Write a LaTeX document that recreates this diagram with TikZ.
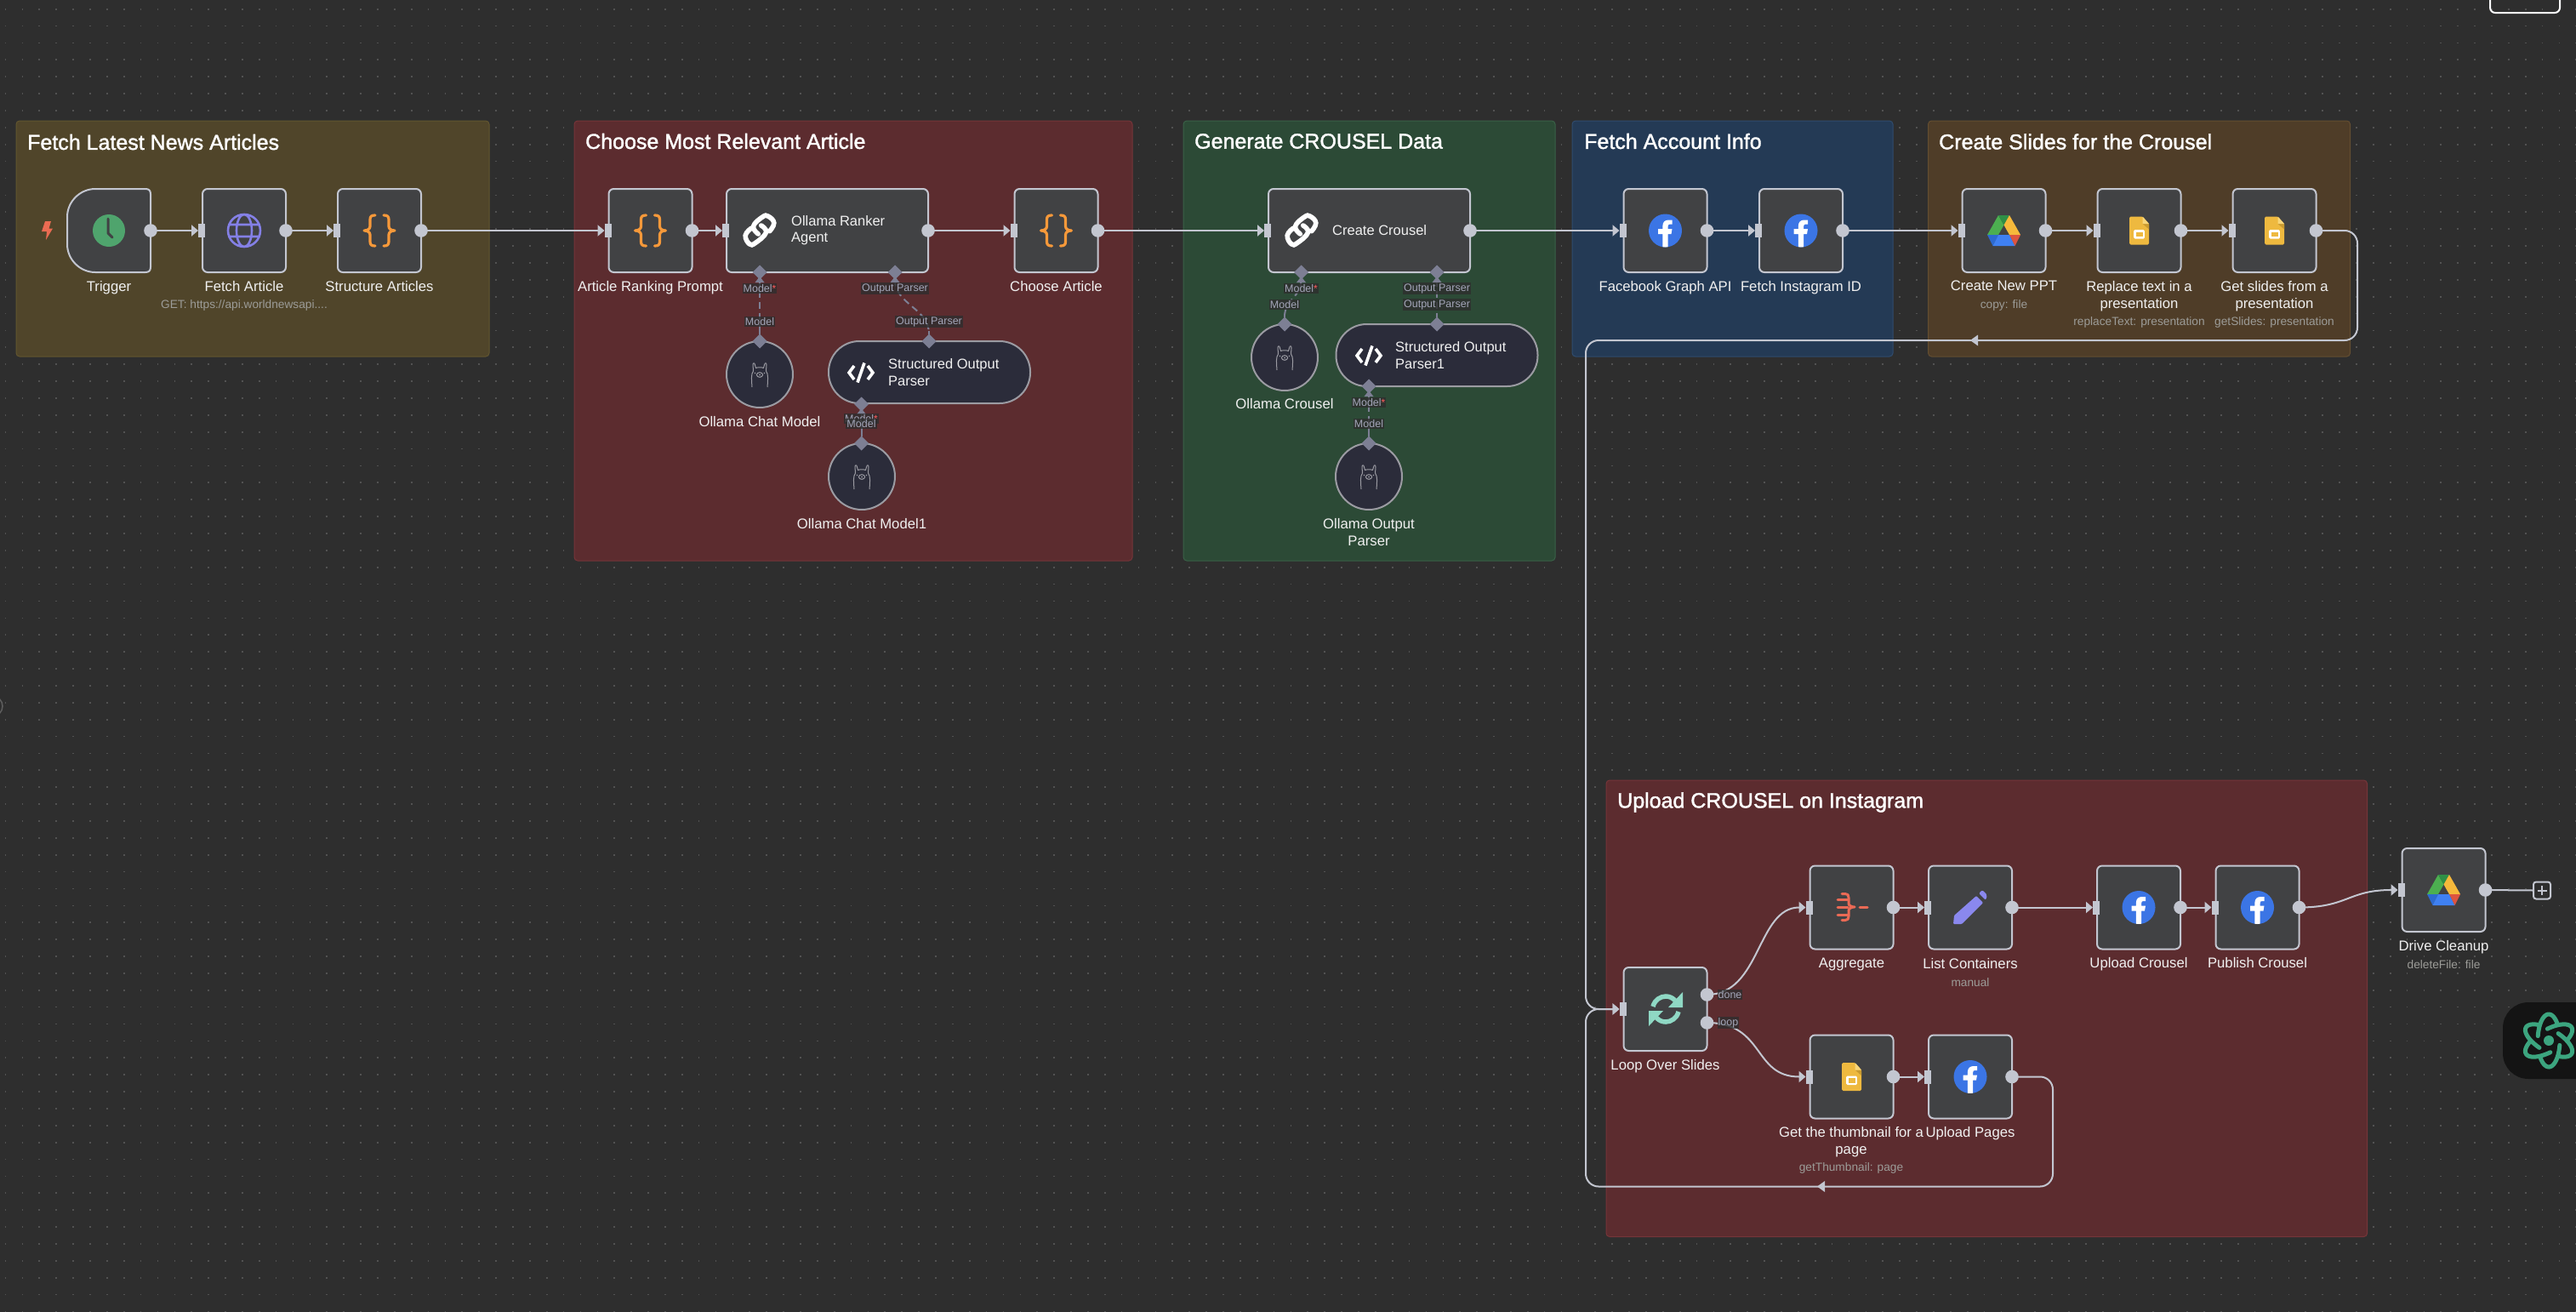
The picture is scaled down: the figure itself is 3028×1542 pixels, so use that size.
\documentclass[tikz,border=0pt]{standalone}
\usepackage{fontspec}
\setmainfont{Liberation Sans}
\newfontfamily\titlefont[FakeBold=1.5]{Liberation Sans}
\usetikzlibrary{arrows.meta,shapes.geometric}
\definecolor{bgc}{HTML}{2E2E2E}
\definecolor{dotc}{HTML}{525252}
\definecolor{nodef}{HTML}{414244}
\definecolor{nodeb}{HTML}{C3C6D0}
\definecolor{subf}{HTML}{2B2C3A}
\definecolor{subb}{HTML}{9B9BA2}
\definecolor{diam}{HTML}{7D7F94}
\definecolor{elab}{HTML}{A3A5B8}
\definecolor{ast}{HTML}{FF5A5A}
\definecolor{labc}{HTML}{F0F0F0}
\definecolor{subt}{HTML}{9C9C98}
\definecolor{oliv}{HTML}{50452A}
\definecolor{olivb}{HTML}{62562F}
\definecolor{redg}{HTML}{5C2C2F}
\definecolor{redb}{HTML}{763539}
\definecolor{greeng}{HTML}{2C4A36}
\definecolor{greenb}{HTML}{3A6147}
\definecolor{blueg}{HTML}{243A55}
\definecolor{blueb}{HTML}{304C6E}
\definecolor{browng}{HTML}{4F3D28}
\definecolor{brownb}{HTML}{644E31}
\definecolor{fbblue}{HTML}{3B75E5}
\definecolor{gold}{HTML}{EEB93F}
\definecolor{orangeb}{HTML}{F7993A}
\definecolor{loopc}{HTML}{8FD8C4}
\definecolor{aggc}{HTML}{EA6A55}
\definecolor{pencilc}{HTML}{8A88EE}
\definecolor{atomc}{HTML}{3CA57F}
\definecolor{globec}{HTML}{8480E6}
\tikzset{
  grp/.style={rectangle,anchor=north west,rounded corners=4pt,line width=1pt,inner sep=0pt,outer sep=0pt},
  wfbox/.style={rectangle,draw=nodeb,fill=nodef,line width=2pt,rounded corners=6pt,minimum height=98pt,inner sep=0pt,outer sep=0pt},
  circ/.style={circle,draw=subb,fill=subf,line width=2pt,minimum size=78pt,inner sep=0pt,outer sep=0pt},
  pill/.style={rectangle,draw=subb,fill=subf,line width=2pt,rounded corners=36pt,minimum width=237pt,minimum height=73pt,inner sep=0pt,outer sep=0pt},
  diamondport/.style={diamond,fill=diam,minimum size=17pt,inner sep=0pt,outer sep=0pt},
  wire/.style={draw=nodeb,line width=2pt,-{Triangle[length=8pt,width=13pt]},shorten >=5pt},
  plainwire/.style={draw=nodeb,line width=2pt},
  subwire/.style={draw=diam,line width=2pt,dash pattern=on 8pt off 5pt},
  stub/.style={draw=diam,line width=2pt},
  lab/.style={anchor=north,align=center,text=labc,inner sep=0pt,yshift=1pt,font=\fontsize{16.7}{20}\selectfont},
  sublab/.style={anchor=center,text=subt,inner sep=0pt,font=\fontsize{13.7}{17}\selectfont},
  title/.style={anchor=west,text=white,inner sep=0pt,font=\titlefont\fontsize{25}{28}\selectfont},
  inner/.style={anchor=west,align=left,text=labc,inner sep=0pt,yshift=.6pt,font=\fontsize{16.5}{20}\selectfont},
  edgelab/.style={anchor=center,text=elab,fill=bgc,fill opacity=.8,text opacity=1,inner xsep=1pt,inner ysep=1.5pt,font=\fontsize{12.5}{14}\selectfont},
  dot/.style={draw=dotc,line width=1.7pt,dash pattern=on 1.7pt off 18.18pt},
  HTML/.code={\definecolor{tmpc}{HTML}{#1}\pgfkeysalso{color=tmpc}},
}
\newcommand\GR[7]{\node[grp,fill=#6,draw=#7,minimum width={#4-#2},minimum height={#5-#3}] (#1) at (#2,#3) {};}
\newcommand\WF[4][98]{\node[wfbox,minimum width=#1pt] (#2) at (#3,#4) {};}
\newcommand\OUT[1]{\fill[nodeb] (#1.east) circle (7.8pt);}
\newcommand\IN[1]{\fill[nodeb] ([xshift=-5pt,yshift=-8pt]#1.west) rectangle ([xshift=3pt,yshift=8pt]#1.west);}
\newcommand\TIP[1]{\fill[diam] ([xshift=-5.5pt,yshift=-12pt]#1.center) -- ([xshift=5.5pt,yshift=-12pt]#1.center) -- ([yshift=-5pt]#1.center) -- cycle;}
\newcommand\REQ{\textcolor{ast}{\fontsize{12}{12}\selectfont *}}
\newcommand\BRACES[2]{\begin{scope}[shift={(#1,#2)},draw=orangeb,line width=3.2pt,line cap=round,line join=round]
  \foreach \s in {1,-1}{\begin{scope}[xscale=\s]
  \draw (-5,-18) .. controls (-9,-18) and (-11,-17) .. (-11,-13) -- (-11,-5) .. controls (-11,-2) and (-14,0) .. (-18,0) .. controls (-14,0) and (-11,2) .. (-11,5) -- (-11,13) .. controls (-11,17) and (-9,18) .. (-5,18);
  \end{scope}}
\end{scope}}
\newcommand\LINK[2]{\begin{scope}[shift={(#1,#2)},draw=white,line width=5.6pt,line cap=round]
  \draw plot[smooth,tension=.75] coordinates {(11.7,0.7) (16.8,-9) (10,-16.8) (3.3,-16) (-7.5,-5) (-1.7,4)};
  \draw plot[smooth,tension=.75] coordinates {(-10,-2.7) (-16.8,5.7) (-12,15.8) (-5,14.5) (7.5,2.3) (1.7,-6)};
\end{scope}}
\newcommand\CODE[2]{\begin{scope}[shift={(#1,#2)},draw=white,line width=3.6pt]
  \draw (-8,-8) -- (-14,0) -- (-8,8);
  \draw (8,-8) -- (14,0) -- (8,8);
  \draw (4,-11.5) -- (-4,11.5);
\end{scope}}
\newcommand\LLAMA[2]{\begin{scope}[shift={(#1,#2)},draw=subb,line width=1pt,line join=round]
  \draw (-9,15) .. controls (-9.5,7) and (-10.5,0) .. (-7.5,-4) -- (-8,-11) .. controls (-8,-14) and (-6,-14) .. (-5.5,-11) -- (-4.5,-7.5) .. controls (-2,-8.5) and (2,-8.5) .. (4.5,-7.5) -- (5.5,-11) .. controls (6,-14) and (8,-14) .. (8,-11) -- (7.5,-4) .. controls (10.5,0) and (9.5,7) .. (9,15);
  \draw (0,0.5) ellipse (3.6pt and 2.8pt);
  \fill[subb] (0,0.5) circle (1pt);
  \fill[subb] (-5.5,-1.5) circle (.9pt) (5.5,-1.5) circle (.9pt);
\end{scope}}
\newcommand\FB[2]{\begin{scope}[shift={(#1,#2)}]
  \fill[fbblue] (0,0) circle (19.5pt);
  \begin{scope}\clip (0,0) circle (19.5pt);
  \fill[white] (-3.2,20) -- (-3.2,4) -- (-8.5,4) -- (-8.5,-2) -- (-3.2,-2) -- (-3.2,-5) .. controls (-3.2,-10.5) and (0,-12.5) .. (4,-12.5) -- (8,-12.5) -- (8,-7.5) -- (5.5,-7.5) .. controls (3.8,-7.5) and (3.2,-6.8) .. (3.2,-5.2) -- (3.2,-2) -- (8,-2) -- (7,4) -- (3.2,4) -- (3.2,20) -- cycle;
  \end{scope}
\end{scope}}
\newcommand\DRIVE[2]{\begin{scope}[shift={(#1,#2)}]
  \fill[HTML=4CAF50] (-6.5,-18) -- (0,-6.5) -- (-6.5,5) -- (-19.5,5) -- cycle;
  \fill[HTML=2F8F46] (-6.5,-18) -- (6.5,-18) -- (0,-6.5) -- cycle;
  \fill[HTML=F6B93B] (6.5,-18) -- (19.5,5) -- (6.5,5) -- (0,-6.5) -- cycle;
  \fill[HTML=2D6AD0] (-19.5,5) -- (-6.5,5) -- (-13,18) -- cycle;
  \fill[HTML=3F80F2] (-6.5,5) -- (6.5,5) -- (13,18) -- (-13,18) -- cycle;
  \fill[HTML=DD5440] (6.5,5) -- (19.5,5) -- (13,18) -- cycle;
\end{scope}}
\newcommand\SLIDES[2]{\begin{scope}[shift={(#1,#2)}]
  \fill[gold,rounded corners=1.5pt] (-11.5,-16.5) -- (4,-16.5) -- (11.5,-8) -- (11.5,16.5) -- (-11.5,16.5) -- cycle;
  \fill[HTML=C99A30] (4,-8) -- (11.5,-8) -- (11.5,-1.5) -- cycle;
  \fill[HTML=F8D67A] (4,-16.5) -- (11.5,-8) -- (4,-8) -- cycle;
  \fill[white,rounded corners=1.5pt] (-6.3,-1) rectangle (6.3,9.7);
  \fill[gold] (-4,1.6) rectangle (4,7.1);
\end{scope}}
\begin{document}
\begin{tikzpicture}[x=1pt,y=-1pt,line cap=butt]
\useasboundingbox (0,0) rectangle (3028,1542);
\clip (0,0) rectangle (3028,1542);
\fill[bgc] (0,0) rectangle (3028,1542);
\foreach \k in {0,...,77} \draw[dot] (5.7,{10.7+19.88*\k}) -- (3028,{10.7+19.88*\k});
% partial canvas fragments
\draw[HTML=5E5E5E,line width=1.5pt] (-9,830) circle (12pt);
\draw[draw=white!92!nodeb,line width=2pt,rounded corners=6pt] (2927,-10) -- (2927,15) -- (3009,15) -- (3009,-10);
% groups
\GR{g1}{19}{142}{575}{419}{oliv}{olivb}
\GR{g2}{675}{142}{1331}{659}{redg}{redb}
\GR{g3}{1391}{142}{1828}{659}{greeng}{greenb}
\GR{g4}{1848}{142}{2225}{419}{blueg}{blueb}
\GR{g5}{2266.5}{142}{2762.5}{419}{browng}{brownb}
\GR{g6}{1888}{917}{2782.5}{1453.5}{redg}{redb}
\node[title] (t1) at (32,167) {Fetch Latest News Articles};
\node[title] (t2) at (688,166) {Choose Most Relevant Article};
\node[title] (t3) at (1404,166) {Generate CROUSEL Data};
\node[title] (t4) at (1862,166) {Fetch Account Info};
\node[title] (t5) at (2279,166.5) {Create Slides for the Crousel};
\node[title] (t6) at (1901,943) {Upload CROUSEL on Instagram};
% nodes
\node[rectangle,minimum width=98pt,minimum height=98pt,inner sep=0pt,outer sep=0pt] (trigger) at (128,271) {};
\draw[draw=nodeb,fill=nodef,line width=2pt] (79,255) .. controls (79,237) and (94,222) .. (112,222) -- (171,222) .. controls (175,222) and (177,224) .. (177,228) -- (177,314) .. controls (177,318) and (175,320) .. (171,320) -- (112,320) .. controls (94,320) and (79,305) .. (79,287) -- cycle;
\WF{fetch}{287}{271}
\WF{structure}{446}{271}
\WF{ranking}{764.5}{271}
\WF[237]{agent}{972.5}{271}
\WF{choose}{1241.5}{271}
\WF[237]{crousel}{1609.5}{271}
\WF{fbapi}{1957.5}{271}
\WF{igid}{2117}{271}
\WF{ppt}{2355.5}{271}
\WF{replace}{2514.5}{271}
\WF{getslides}{2673.5}{271}
\WF{loop}{1957.5}{1186}
\WF{aggregate}{2176.5}{1066.5}
\WF{listc}{2316}{1066.5}
\WF{uploadc}{2514}{1066.5}
\WF{publish}{2653.5}{1066.5}
\WF{cleanup}{2872.5}{1046}
\WF{thumb}{2176.5}{1265.5}
\WF{upages}{2316}{1265.5}
\node[rectangle,draw=nodeb,fill=bgc,line width=2pt,rounded corners=3pt,minimum size=20pt,inner sep=0pt,outer sep=0pt] (addbox) at (2988,1046.5) {};
\draw[draw=nodeb,line width=2pt] (2988,1041) -- (2988,1052) (2982.5,1046.5) -- (2993.5,1046.5);
% sub nodes
\node[circ] (chat) at (893,440) {};
\node[pill] (parser) at (1092.5,437.5) {};
\node[circ] (chat1) at (1013,560) {};
\node[circ] (ocrousel) at (1510,420) {};
\node[pill] (parser1) at (1689,417.5) {};
\node[circ] (oparser) at (1609,560) {};
% diamonds
\node[diamondport] (d1) at (893,320) {};
\node[diamondport] (d2) at (1052,320) {};
\node[diamondport] (d3) at (893,401) {};
\node[diamondport] (d4) at (1092,401) {};
\node[diamondport] (d5) at (1012.5,475) {};
\node[diamondport] (d6) at (1012.5,521) {};
\node[diamondport] (d7) at (1529.5,320) {};
\node[diamondport] (d8) at (1689,320) {};
\node[diamondport] (d9) at (1510,381) {};
\node[diamondport] (d10) at (1689,381) {};
\node[diamondport] (d11) at (1609,454) {};
\node[diamondport] (d12) at (1609,521) {};
\foreach \d in {d1,d2,d5,d7,d8,d11}{\TIP{\d}}
% sub connectors
\draw[subwire] (d1) -- (d3);
\draw[stub] (d3) -- +(0,-16);
\draw[subwire] (d2) .. controls (1052,358) and (1092,362) .. (d4);
\draw[stub] (d4) -- +(0,-12);
\draw[stub] (d5) -- (d6);
\draw[subwire] (d7) .. controls (1529.5,350) and (1510,351) .. (d9);
\draw[stub] (d9) -- +(0,-12);
\draw[subwire] (d8) -- (d10);
\draw[stub] (d10) -- +(0,-12);
\draw[subwire] (d11) -- (d12);
\draw[stub] (d12) -- +(0,-14);
% main connectors
\draw[wire] (trigger.east) -- (fetch.west);
\draw[wire] (fetch.east) -- (structure.west);
\draw[wire] (structure.east) -- (ranking.west);
\draw[wire] (ranking.east) -- (agent.west);
\draw[wire] (agent.east) -- (choose.west);
\draw[wire] (choose.east) -- (crousel.west);
\draw[wire] (crousel.east) -- (fbapi.west);
\draw[wire] (fbapi.east) -- (igid.west);
\draw[wire] (igid.east) -- (ppt.west);
\draw[wire] (ppt.east) -- (replace.west);
\draw[wire] (replace.east) -- (getslides.west);
\draw[wire,rounded corners=15pt] (getslides.east) -- (2771,271) -- (2771,400) -- (1864,400) -- (1864,1186) -- (loop.west);
\fill[nodeb] (2316,400) -- (2325,393.5) -- (2325,406.5) -- cycle;
\coordinate (doneout) at (2006.5,1169);
\coordinate (loopout) at (2006.5,1202);
\draw[wire] (doneout) .. controls (2070,1169) and (2065,1066.5) .. (aggregate.west);
\draw[wire] (loopout) .. controls (2075,1202) and (2060,1265.5) .. (thumb.west);
\draw[wire] (aggregate.east) -- (listc.west);
\draw[wire] (thumb.east) -- (upages.west);
\draw[wire] (listc.east) -- (uploadc.west);
\draw[wire] (uploadc.east) -- (publish.west);
\draw[wire] (publish.east) .. controls (2760,1066.5) and (2760,1046) .. (cleanup.west);
\draw[plainwire] (cleanup.east) -- (addbox.west);
\draw[wire,rounded corners=15pt] (upages.east) -- (2413,1265.5) -- (2413,1394.5) -- (1864,1394.5) -- (1864,1186) -- (loop.west);
\fill[nodeb] (2136,1394.5) -- (2145,1388) -- (2145,1401) -- cycle;
% ports
\foreach \n in {trigger,fetch,structure,ranking,agent,choose,crousel,fbapi,igid,ppt,replace,getslides,aggregate,listc,uploadc,publish,cleanup,thumb,upages}{\OUT{\n}}
\fill[nodeb] (doneout) circle (7.8pt) (loopout) circle (7.8pt);
\foreach \n in {fetch,structure,ranking,agent,choose,crousel,fbapi,igid,ppt,replace,getslides,loop,aggregate,listc,uploadc,publish,cleanup,thumb,upages}{\IN{\n}}
% icons
\fill[HTML=EA6B52] (53,260) -- (60,260) -- (57.5,268.5) -- (62,268.5) -- (54,282) -- (55,272) -- (49,272) -- cycle;
\fill[HTML=4FA46D] (128,271) circle (19pt);
\draw[draw=nodef,line width=3pt,line cap=round,line join=round] (127,257) -- (127,274) -- (132,279);
\begin{scope}[shift={(287,271)},line width=2.6pt]
\draw[globec] (0,0) circle (19pt) (0,0) ellipse (9pt and 19pt) (-18,-7) -- (18,-7) (-18,7) -- (18,7);
\end{scope}
\BRACES{446}{271}
\BRACES{764.5}{271}
\BRACES{1241.5}{271}
\LINK{893}{271}
\LINK{1530}{271}
\CODE{1012}{438}
\CODE{1609}{418}
\LLAMA{893}{440}
\LLAMA{1013}{560}
\LLAMA{1510}{420}
\LLAMA{1609}{560}
\FB{1957.5}{271}
\FB{2117}{271}
\FB{2514}{1066.5}
\FB{2653.5}{1066.5}
\FB{2316}{1265.5}
\DRIVE{2355.5}{271}
\DRIVE{2872.5}{1046}
\SLIDES{2514.5}{271}
\SLIDES{2673.5}{271}
\SLIDES{2176.5}{1265.5}
% loop icon
\begin{scope}[shift={(1958,1186)}]
\foreach \s in {1,-1}{\begin{scope}[scale=\s]
\draw[loopc,line width=5.5pt] (-15,-3) .. controls (-13,-11) and (-6,-15) .. (0,-15) .. controls (4,-15) and (8,-13.5) .. (11,-10);
\fill[loopc] (20,-20) -- (20,-2) -- (3,-2) -- cycle;
\end{scope}}
\end{scope}
% aggregate icon
\begin{scope}[shift={(2177,1066)},draw=aggc,line width=3pt,line cap=round,line join=round]
\draw (-17,-9) -- (-5,-9) (-17,0) -- (-5,0) (-17,9) -- (-5,9);
\draw (-12,-15.5) -- (-8,-15.5) .. controls (-5,-15.5) and (-4,-14) .. (-4,-11) -- (-4,-4) .. controls (-4,-2) and (-1,0) .. (3,0) .. controls (-1,0) and (-4,2) .. (-4,4) -- (-4,11) .. controls (-4,14) and (-5,15.5) .. (-8,15.5) -- (-12,15.5);
\draw (9,0) -- (18,0);
\end{scope}
% pencil icon
\begin{scope}[shift={(2316,1066)}]
\fill[pencilc,rounded corners=1pt] (-20,20) -- (-19,10) -- (7,-13) -- (15,-5) -- (-10,20) -- cycle;
\fill[pencilc,rounded corners=2pt] (10,-16) -- (14,-20) -- (20,-14) -- (18,-8) -- cycle;
\end{scope}
% atom button
\fill[HTML=141414,rounded corners=30pt] (2942,1178) rectangle (3070,1268);
\begin{scope}[shift={(2996,1223)},draw=atomc,line width=5pt,line cap=round]
\foreach \r in {90,30,150}{
\draw[rotate=\r] plot[domain=-80:50,samples=24,smooth] ({31*cos(\x)},{13*sin(\x)});
\draw[rotate=\r] plot[domain=100:230,samples=24,smooth] ({31*cos(\x)},{13*sin(\x)});
}
\fill[atomc] (0,0) circle (6pt);
\end{scope}
% edge labels
\node[edgelab] (l1) at (893,339) {Model\REQ};
\node[edgelab] (l2) at (1052,339) {Output Parser};
\node[edgelab] (l3) at (893,378) {Model};
\node[edgelab] (l4) at (1092,378) {Output Parser};
\node[edgelab] (l5) at (1012.5,492) {Model\REQ};
\node[edgelab] (l6) at (1012.5,498) {Model};
\node[edgelab] (l7) at (1529.5,339) {Model\REQ};
\node[edgelab] (l8) at (1689,339) {Output Parser};
\node[edgelab] (l9) at (1510,358) {Model};
\node[edgelab] (l10) at (1689,358) {Output Parser};
\node[edgelab] (l11) at (1609,473) {Model\REQ};
\node[edgelab] (l12) at (1609,498) {Model};
\node[edgelab] (l13) at (2033.5,1169) {done};
\node[edgelab] (l14) at (2031.5,1202) {loop};
% inner texts
\node[inner] (x1) at (930,271.5) {Ollama Ranker\\[-.5pt]Agent};
\node[inner] (x2) at (1566,271) {Create Crousel};
\node[inner] (x3) at (1044,438) {Structured Output\\Parser};
\node[inner] (x4) at (1640,418) {Structured Output\\Parser1};
% labels
\node[lab] (n1) at (128,331) {Trigger};
\node[lab] (n2) at (287,331) {Fetch Article};
\node[sublab] (n2s) at (287,359) {GET: https://api.worldnewsapi....};
\node[lab] (n3) at (446,331) {Structure Articles};
\node[lab] (n4) at (764.5,331) {Article Ranking Prompt};
\node[lab] (n5) at (1241.5,331) {Choose Article};
\node[lab] (n6) at (893,490) {Ollama Chat Model};
\node[lab] (n7) at (1013,610) {Ollama Chat Model1};
\node[lab] (n8) at (1510,469.5) {Ollama Crousel};
\node[lab] (n9) at (1609,610) {Ollama Output\\Parser};
\node[lab] (n10) at (1957.5,331) {Facebook Graph API};
\node[lab] (n11) at (2117,331) {Fetch Instagram ID};
\node[lab] (n12) at (2355.5,331) {Create New PPT};
\node[sublab] (n12s) at (2355.5,359) {copy: file};
\node[lab] (n13) at (2514.5,331) {Replace text in a\\presentation};
\node[sublab] (n13s) at (2514.5,379) {replaceText: presentation};
\node[lab] (n14) at (2673.5,331) {Get slides from a\\presentation};
\node[sublab] (n14s) at (2673.5,379) {getSlides: presentation};
\node[lab] (n15) at (1957.5,1246) {Loop Over Slides};
\node[lab] (n16) at (2176.5,1127) {Aggregate};
\node[lab] (n17) at (2316,1127) {List Containers};
\node[sublab] (n17s) at (2316,1155) {manual};
\node[lab] (n18) at (2514,1126) {Upload Crousel};
\node[lab] (n19) at (2653.5,1126) {Publish Crousel};
\node[lab] (n20) at (2872.5,1106) {Drive Cleanup};
\node[sublab] (n20s) at (2872.5,1134) {deleteFile: file};
\node[lab] (n21) at (2176,1325) {Get the thumbnail for a\\page};
\node[sublab] (n21s) at (2176,1373) {getThumbnail: page};
\node[lab] (n22) at (2316,1325) {Upload Pages};
\end{tikzpicture}
\end{document}
